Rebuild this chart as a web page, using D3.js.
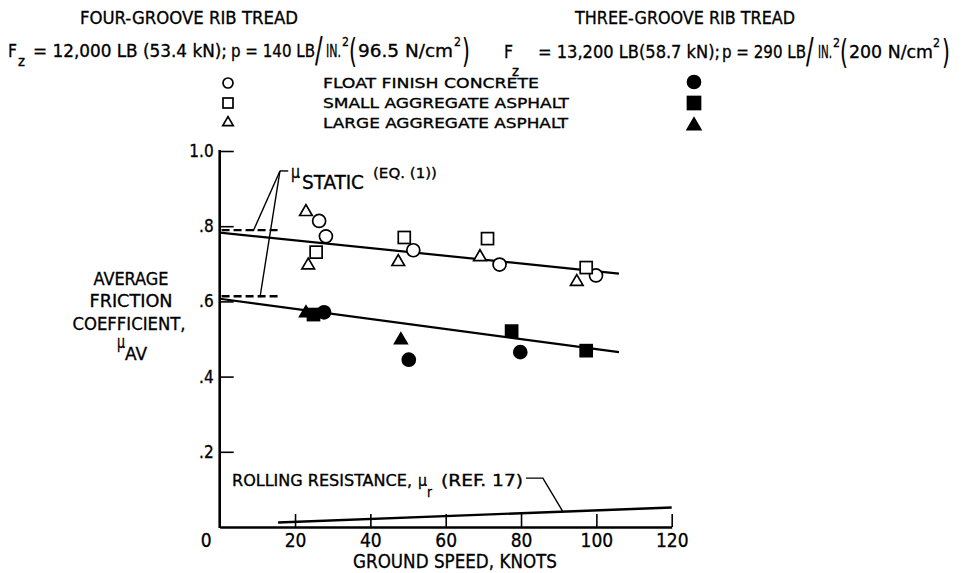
<!DOCTYPE html>
<html><head><meta charset="utf-8">
<script src="https://cdn.jsdelivr.net/npm/d3@7"></script>
<style>
body{margin:0;background:#fff}
svg{display:block}
text{font-family:"Liberation Sans Narrow","DejaVu Sans Condensed","Liberation Sans",Arial,sans-serif;fill:#000;stroke:#000;stroke-width:0.3px}
</style>
</head><body><svg id="c" width="962" height="573"></svg>
<script>
// ---------- data ----------
const speedTicks = [0, 20, 40, 60, 80, 100, 120];
const muTicks = [0.2, 0.4, 0.6, 0.8, 1.0];
const muTickLabels = [".2", ".4", ".6", ".8", "1.0"];
const surfaces = ["FLOAT FINISH CONCRETE", "SMALL AGGREGATE ASPHALT", "LARGE AGGREGATE ASPHALT"];
const symbolTypes = ["circle", "square", "triangle"];

// four-groove rib tread (open symbols): [speed, mu]
const fourConcrete = [[26.4,0.814],[28.2,0.773],[51.4,0.736],[74.3,0.698],[99.9,0.669]];
const fourSmallAsphalt = [[25.6,0.731],[49.0,0.770],[71.1,0.767],[97.3,0.690]];
const fourLargeAsphalt = [[22.9,0.840],[23.5,0.698],[47.4,0.707],[69.1,0.720],[94.8,0.654]];
// three-groove rib tread (filled symbols)
const threeConcrete = [[27.7,0.571],[50.2,0.445],[79.8,0.465]];
const threeSmallAsphalt = [[24.9,0.565],[77.5,0.521],[97.3,0.469]];
const threeLargeAsphalt = [[22.9,0.571],[48.1,0.499]];

// fairings
const fourGrooveFit = [[0,0.783],[106,0.674]];
const threeGrooveFit = [[0,0.607],[106,0.465]];
const staticFour = [[0.5,0.787],[15.5,0.787]];
const staticThree = [[0.5,0.611],[15.5,0.611]];
const rollingResistance = [[15.5,0.012],[120,0.052]];
// annotation leaders (data units)
const staticLeader = {anchor:[16.0,0.947], stub:[18.2,0.947], targets:[[8.9,0.787],[10.7,0.611]]};
const rollingLeader = [[81.3,0.130],[85.8,0.130],[91.1,0.041]];

// ---------- setup ----------
const svg = d3.select("#c");
const x = d3.scaleLinear().domain([0,120]).range([219.7,671.7]);
const y = d3.scaleLinear().domain([0,1]).range([527,151]);

function txt(px, py, s, size, o={}) {
  const t = svg.append("text").attr("x",px).attr("y",py).attr("font-size",size).text(s);
  if (o.w) t.attr("textLength",o.w).attr("lengthAdjust","spacingAndGlyphs");
  if (o.anchor) t.attr("text-anchor",o.anchor);
  return t;
}
// tall thin glyph (slash / parentheses) stretched vertically
function tall(px, py, ch, size, sx, sy) {
  return svg.append("text").attr("transform",`translate(${px},${py}) scale(${sx},${sy})`)
    .attr("font-size",size).style("stroke-width","0.1px").text(ch);
}

// ---------- headers ----------
txt(80, 24, "FOUR-GROOVE RIB TREAD", 17, {w:218});
txt(575, 24, "THREE-GROOVE RIB TREAD", 17, {w:220});
// left line 2
txt(8, 57, "F", 18, {w:9});
txt(18, 66, "z", 14, {w:7});
txt(33, 57, "= 12,000 LB (53.4 kN);", 17, {w:194});
txt(231, 57, "p = 140 LB", 17, {w:84});
tall(315, 62, "/", 25, 1.0, 1.45);
txt(326, 57, "IN.", 17, {w:15});
txt(342, 46, "2", 13, {w:7});
tall(349, 63, "(", 25, 0.9, 1.35);
txt(358, 57, "96.5 N/cm", 17, {w:95});
txt(454, 46, "2", 13, {w:7});
tall(462, 63, ")", 25, 0.9, 1.35);
// right line 2
txt(504, 58, "F", 18, {w:9});
txt(512, 76, "z", 14, {w:7});
txt(538, 58, "= 13,200 LB(58.7 kN);", 17, {w:182});
txt(722, 58, "p = 290 LB", 17, {w:84});
tall(806, 63, "/", 25, 1.0, 1.45);
txt(818, 58, "IN.", 17, {w:14});
txt(833, 47, "2", 13, {w:7});
tall(840, 64, "(", 25, 0.9, 1.35);
txt(849, 58, "200 N/cm", 17, {w:84});
txt(933, 47, "2", 13, {w:7});
tall(942, 64, ")", 25, 0.9, 1.35);

// ---------- markers ----------
function marker(g, type, cx, cy, filled, s) {
  const fill = filled ? "#000" : "#fff";
  const sw = 1.7;
  if (type === "circle") {
    g.append("circle").attr("cx",cx).attr("cy",cy).attr("r",s/2)
      .attr("fill",fill).attr("stroke","#000").attr("stroke-width",sw);
  } else if (type === "square") {
    g.append("rect").attr("x",cx-s/2).attr("y",cy-s/2).attr("width",s).attr("height",s)
      .attr("fill",fill).attr("stroke","#000").attr("stroke-width",sw);
  } else {
    const h = s*0.9, w = s*1.05;
    g.append("path").attr("d",`M${cx},${cy-h*0.6}L${cx+w/2},${cy+h*0.4}L${cx-w/2},${cy+h*0.4}Z`)
      .attr("fill",fill).attr("stroke","#000").attr("stroke-width",sw).attr("stroke-linejoin","miter");
  }
}

// legend
const legOpenY = [83,103,122], legFillY = [82,103,125];
surfaces.forEach((s,i)=>{
  marker(svg, symbolTypes[i], 228, legOpenY[i], false, 10);
  marker(svg, symbolTypes[i], 694, legFillY[i], true, 13);
});
txt(323, 88, surfaces[0], 14, {w:216});
txt(323, 108, surfaces[1], 14, {w:246});
txt(323, 128, surfaces[2], 14, {w:245});

// ---------- axes ----------
const xAxis = d3.axisBottom(x).tickValues(speedTicks).tickSizeInner(-13).tickSizeOuter(0).tickPadding(22)
  .tickFormat(d3.format("d"));
const gx = svg.append("g").attr("transform",`translate(0,${y(0)})`).call(xAxis);
gx.select(".domain").attr("stroke-width",2.6);
gx.selectAll(".tick line").attr("stroke-width",1.6);
gx.selectAll(".tick text").attr("font-size",19).attr("font-family",null).attr("dy","0")
  .attr("y",20);
gx.selectAll(".tick").filter(d=>d===0).select("text").attr("x",-14);
gx.selectAll(".tick").filter(d=>d===0).select("line").remove();

const yAxis = d3.axisLeft(y).tickValues(muTicks).tickSizeInner(-14).tickSizeOuter(0).tickPadding(7)
  .tickFormat((d,i)=>muTickLabels[i]);
const gy = svg.append("g").attr("transform",`translate(${x(0)},0)`).call(yAxis);
gy.select(".domain").attr("stroke-width",2.6).attr("d",`M0,${y(0)+1}V${y(1)-1}`);
gy.selectAll(".tick line").attr("stroke-width",1.6);
gy.selectAll(".tick text").attr("font-size",17).attr("font-family",null).attr("x",-6);
svg.selectAll(".domain").attr("stroke","#000");
svg.selectAll(".tick line").attr("stroke","#000");

// axis titles
txt(455, 568, "GROUND SPEED, KNOTS", 19, {w:204, anchor:"middle"});
txt(131, 285, "AVERAGE", 17, {w:75, anchor:"middle"});
txt(131, 307, "FRICTION", 17, {w:83, anchor:"middle"});
txt(129, 330, "COEFFICIENT,", 17, {w:113, anchor:"middle"});
txt(117, 348, "μ", 17, {w:8});
txt(125, 360, "AV", 17, {w:22});

// ---------- lines ----------
const line = d3.line().x(d=>x(d[0])).y(d=>y(d[1]));
const lines = svg.append("g").attr("fill","none").attr("stroke","#000");
lines.append("path").attr("d",line(fourGrooveFit)).attr("stroke-width",2.2);
lines.append("path").attr("d",line(threeGrooveFit)).attr("stroke-width",2.2);
lines.append("path").attr("d",line(staticFour)).attr("stroke-width",2.4).attr("stroke-dasharray","8,4").attr("transform","translate(0,-1)");
lines.append("path").attr("d",line(staticThree)).attr("stroke-width",2.4).attr("stroke-dasharray","8,4").attr("transform","translate(0,-1)");
lines.append("path").attr("d",line(rollingResistance)).attr("stroke-width",2.4);
// leaders
staticLeader.targets.forEach(t=>{
  lines.append("path").attr("d",line([t, staticLeader.anchor])).attr("stroke-width",1.4);
});
lines.append("path").attr("d",line([staticLeader.anchor, staticLeader.stub])).attr("stroke-width",1.4);
lines.append("path").attr("d",line(rollingLeader)).attr("stroke-width",1.4);

// annotations
txt(291, 178, "μ", 17, {w:9});
txt(302, 189, "STATIC", 19, {w:62});
txt(373, 178, "(EQ. (1))", 14, {w:64});
txt(232, 486, "ROLLING RESISTANCE,", 15, {w:180});
txt(418, 486, "μ", 15, {w:9});
txt(427, 497, "r", 14, {w:5});
txt(441, 486, "(REF. 17)", 15, {w:82});

// ---------- data points ----------
const pts = svg.append("g");
const openSets = [fourConcrete, fourSmallAsphalt, fourLargeAsphalt];
const fillSets = [threeConcrete, threeSmallAsphalt, threeLargeAsphalt];
openSets.forEach((set,i)=>set.forEach(d=>marker(pts, symbolTypes[i], x(d[0]), y(d[1]), false, i===0?13:12)));
fillSets.forEach((set,i)=>set.forEach(d=>marker(pts, symbolTypes[i], x(d[0]), y(d[1]), true, i===0?13:12)));
</script>
</body></html>
